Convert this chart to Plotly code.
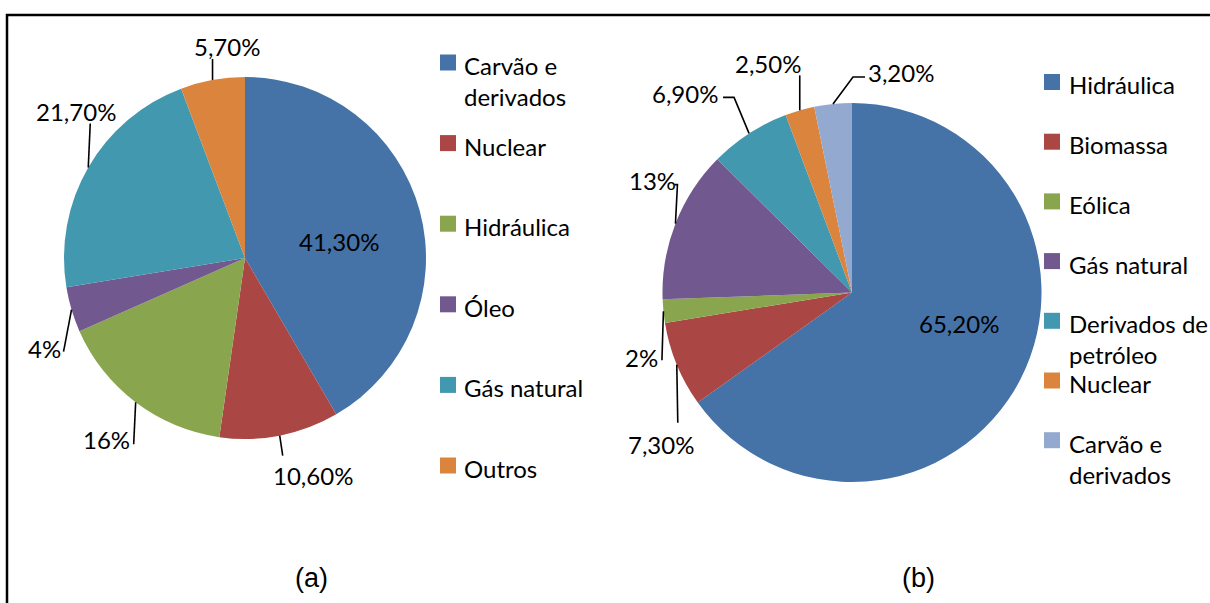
import math
import plotly.graph_objects as go

# ---------------- data ----------------
cats_a = ["Carvão e derivados", "Nuclear", "Hidráulica", "Óleo", "Gás natural", "Outros"]
vals_a = [41.3, 10.6, 16, 4, 21.7, 5.7]

cats_b = ["Hidráulica", "Biomassa", "Eólica", "Gás natural", "Derivados de petróleo",
          "Nuclear", "Carvão e derivados"]
vals_b = [65.2, 7.3, 2, 13, 6.9, 2.5, 3.2]

caption_a = "(a)"
caption_b = "(b)"

# ---------------- styles / layout ----------------
W, H = 1210, 603
colors_a = ["#4572A7", "#AA4643", "#89A54E", "#71588F", "#4198AF", "#DB843D"]
colors_b = ["#4572A7", "#AA4643", "#89A54E", "#71588F", "#4198AF", "#DB843D", "#93A9CF"]
FONT = "Lato"
FS = 24
wrap = {"Carvão e derivados": "Carvão e<br>derivados",
        "Derivados de petróleo": "Derivados de<br>petróleo"}

pie_a = dict(cx=245, cy=258, r=181)
pie_b = dict(cx=852, cy=292.5, r=189.5)

# label placement: anchor radius fraction, text offset (dx, dy) px,
# leader-line path offsets (list of (x, y) px relative to the anchor)
place_a = [
    (0.53, (1, 9), []),
    (1, (33, 40), [(3, 20)]),
    (1, (-29, 37), [(-2, 42)]),
    (1, (-27, 39), [(-8, 42)]),
    (1, (-12, -56), [(2, -44)]),
    (1, (14, -33), [(0, -21)]),
]
place_b = [
    (0.6, (6, -21), []),
    (1, (-16, 80), [(1, 58)]),
    (1, (-22, 46), [(-1.5, 49)]),
    (1, (-23, -43), [(2, -39), (-1, -39)]),
    (1, (-64, -40), [(-15, -36), (-26, -36)]),
    (1, (-32, -47), [(0, -35)]),
    (1, (68, -31), [(20, -27), (32, -27)]),
]

leg_a = dict(sq_x=440, tx=462, y0=65, dy=80.6)
leg_b = dict(sq_x=1044, tx=1067, y0=84.5, dy=59.7)


def X(px):
    return px / W


def Y(py):
    return 1 - py / H


def fmt(v):
    if float(v).is_integer():
        return f"{int(v)}%"
    return f"{v:.2f}".replace(".", ",") + "%"


fig = go.Figure()
annotations = []
shapes = []


def add_pie(cats, vals, colors, geo, place, leg):
    cx, cy, r = geo["cx"], geo["cy"], geo["r"]
    fig.add_trace(go.Pie(
        labels=cats, values=vals, sort=False, direction="clockwise", rotation=0,
        marker=dict(colors=colors, line=dict(width=0)),
        textinfo="none", hoverinfo="label+value", showlegend=False,
        domain=dict(x=[X(cx - r), X(cx + r)], y=[Y(cy + r), Y(cy - r)]),
    ))
    total = sum(vals)
    cum = 0
    for v, (rf, (dx, dy), path) in zip(vals, place):
        mid = (cum + v / 2) / total * 2 * math.pi
        cum += v
        px = cx + rf * r * math.sin(mid)
        py = cy - rf * r * math.cos(mid)
        annotations.append(dict(
            x=X(px + dx), y=Y(py + dy), xref="paper", yref="paper", text=fmt(v),
            showarrow=False, xanchor="center", yanchor="middle",
            font=dict(family=FONT, size=FS, color="black")))
        if path:
            d = f"M {X(px)} {Y(py)}" + "".join(
                f" L {X(px + ox)} {Y(py + oy)}" for ox, oy in path)
            shapes.append(dict(type="path", xref="paper", yref="paper", path=d,
                               line=dict(color="black", width=1.6)))
    # legend
    for i, (c, col) in enumerate(zip(cats, colors)):
        yc = leg["y0"] + i * leg["dy"]
        shapes.append(dict(type="rect", xref="paper", yref="paper",
                           x0=X(leg["sq_x"]), x1=X(leg["sq_x"] + 16),
                           y0=Y(yc - 10.5), y1=Y(yc + 5.5),
                           fillcolor=col, line=dict(width=0)))
        annotations.append(dict(
            x=X(leg["tx"]), y=Y(yc - 16), xref="paper", yref="paper",
            text=wrap.get(c, c), showarrow=False, xanchor="left", yanchor="top",
            align="left", font=dict(family=FONT, size=FS, color="black")))


add_pie(cats_a, vals_a, colors_a, pie_a, place_a, leg_a)
add_pie(cats_b, vals_b, colors_b, pie_b, place_b, leg_b)

for txt, cx in ((caption_a, 311), (caption_b, 918)):
    annotations.append(dict(x=X(cx), y=Y(578), xref="paper", yref="paper", text=txt,
                            showarrow=False, xanchor="center", yanchor="middle",
                            font=dict(family="Liberation Sans", size=27, color="black")))

# outer frame
shapes.append(dict(type="rect", xref="paper", yref="paper",
                   x0=X(7), x1=X(W + 10), y0=Y(15), y1=Y(H + 10),
                   line=dict(color="black", width=2.5), fillcolor="rgba(0,0,0,0)"))

fig.update_layout(width=W, height=H, margin=dict(l=0, r=0, t=0, b=0),
                  paper_bgcolor="white", plot_bgcolor="white",
                  annotations=annotations, shapes=shapes, showlegend=False)

fig.write_html("out.html", config={"displayModeBar": False},
               post_script="document.body.style.margin='0';document.body.style.overflow='hidden';")
